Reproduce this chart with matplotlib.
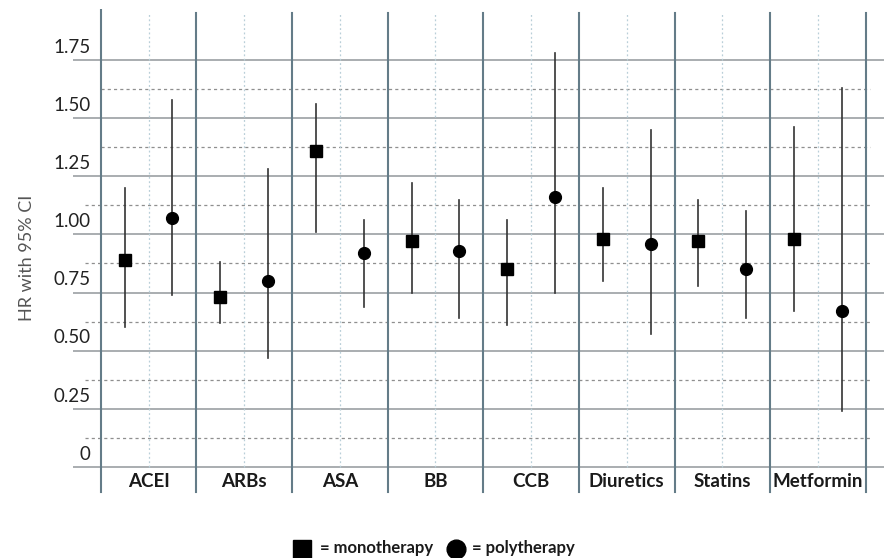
import matplotlib
matplotlib.use('Agg')
import matplotlib.pyplot as plt
from matplotlib.lines import Line2D

plt.rcParams['font.family'] = ['Lato', 'DejaVu Sans']

drugs = ['ACEI', 'ARBs', 'ASA', 'BB', 'CCB', 'Diuretics', 'Statins', 'Metformin']
mono_hr = [0.89, 0.73, 1.36, 0.97, 0.85, 0.98, 0.97, 0.98]
mono_lo = [0.60, 0.62, 1.01, 0.75, 0.61, 0.80, 0.78, 0.67]
mono_hi = [1.20, 0.88, 1.56, 1.22, 1.06, 1.20, 1.15, 1.46]
poly_hr = [1.07, 0.80, 0.92, 0.93, 1.16, 0.96, 0.85, 0.67]
poly_lo = [0.74, 0.47, 0.69, 0.64, 0.75, 0.57, 0.64, 0.24]
poly_hi = [1.58, 1.28, 1.06, 1.15, 1.78, 1.45, 1.10, 1.63]
yticks = [0, 0.25, 0.50, 0.75, 1.00, 1.25, 1.50, 1.75]
ytick_labels = ['0', '0.25', '0.50', '0.75', '1.00', '1.25', '1.50', '1.75']

fig = plt.figure(figsize=(8.86, 5.58), dpi=100)
ax = fig.add_axes([0.0824, 0.1131, 0.9153, 0.8711])
ax.set_xlim(-0.29, 8.19)
ax.set_ylim(-0.12, 1.97)
ax.axis('off')

n = len(drugs)

# horizontal grid: solid at ticks, dashed halfway between (none above the top tick)
for v in yticks:
    ax.plot([-0.29, 8.19], [v, v], color='#a9adb0', lw=1.4, zorder=1)
for v in yticks[:-1]:
    mid = v + 0.125
    start = 0 if mid > 1.3 else -0.16
    ax.plot([start, 8.04], [mid, mid], color='#8f8f8f', lw=0.9,
            ls=(0, (2.5, 2.5)), zorder=1)

# group separators and dotted centre lines
for i in range(n + 1):
    top = 1.965 if i == 0 else 1.952
    ax.plot([i, i], [-0.107, top], color='#647c88', lw=1.5, zorder=2)
for i in range(n):
    ax.plot([i + 0.5, i + 0.5], [0, 1.952], color='#b9cfd8', lw=0.9,
            ls=(0, (1.5, 2)), zorder=1)

# y tick labels (sit just above their line)
for v, lab in zip(yticks, ytick_labels):
    ax.text(-0.11, v + 0.055, lab, ha='right', va='center', fontsize=13.5,
            color='#222222')
ax.text(-0.77, 0.90, 'HR with 95% CI', rotation=90, ha='center', va='center',
        fontsize=13, color='#555555')

# x labels
for i, d in enumerate(drugs):
    ax.text(i + 0.5, -0.064, d, ha='center', va='center', fontsize=13.5,
            fontweight='bold', color='#1a1a1a')

# estimates with CIs
for i in range(n):
    ax.plot([i + 0.25, i + 0.25], [mono_lo[i], mono_hi[i]], color='#333333',
            lw=1.2, zorder=3)
    ax.plot([i + 0.75, i + 0.75], [poly_lo[i], poly_hi[i]], color='#333333',
            lw=1.2, zorder=3)
ax.plot([i + 0.25 for i in range(n)], mono_hr, ls='none', marker='s',
        ms=8.5, color='black', zorder=4)
ax.plot([i + 0.75 for i in range(n)], poly_hr, ls='none', marker='o',
        ms=8.5, color='black', zorder=4)

# legend in figure pixels
W, H = 886, 558
fig.add_artist(Line2D([302 / W], [1 - 549 / H], marker='s', ms=13.5,
                      color='black', ls='none', transform=fig.transFigure))
fig.text(320 / W, 1 - 548 / H, '= monotherapy', ha='left', va='center',
         fontsize=12, fontweight='bold', color='#1a1a1a')
fig.add_artist(Line2D([456 / W], [1 - 549 / H], marker='o', ms=13.5,
                      color='black', ls='none', transform=fig.transFigure))
fig.text(472 / W, 1 - 548 / H, '= polytherapy', ha='left', va='center',
         fontsize=12, fontweight='bold', color='#1a1a1a')

fig.savefig('out.png', dpi=100)
